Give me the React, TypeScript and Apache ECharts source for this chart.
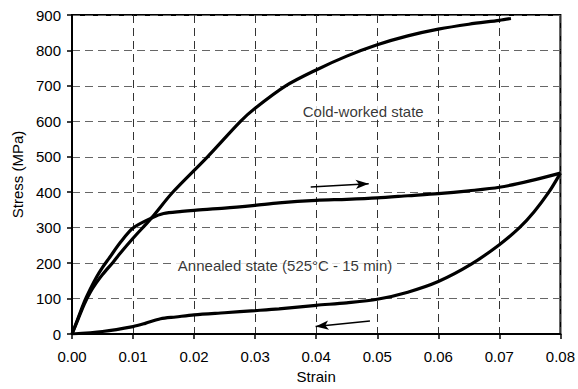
import React, { useEffect, useRef } from "react";
import * as echarts from "echarts";

// Strain (x) / Stress MPa (y)
const coldWorked: [number, number][] = [
  [0, 0], [0.001, 42], [0.002, 84], [0.003, 118], [0.004, 145], [0.005, 168],
  [0.0067, 202], [0.008, 230], [0.01, 270], [0.013, 327], [0.0165, 400],
  [0.0222, 500], [0.0276, 600], [0.03, 637], [0.035, 700], [0.04, 745],
  [0.045, 784], [0.05, 816], [0.055, 841], [0.06, 860], [0.065, 874],
  [0.07, 885], [0.0719, 890],
];

const annealedLoading: [number, number][] = [
  [0, 0], [0.001, 45], [0.002, 90], [0.003, 127], [0.004, 160], [0.005, 188],
  [0.006, 212], [0.008, 260], [0.01, 299], [0.013, 327], [0.015, 340],
  [0.018, 346], [0.02, 349], [0.025, 355], [0.03, 363], [0.0339, 370],
  [0.04, 377], [0.045, 380], [0.05, 384], [0.055, 390], [0.06, 396],
  [0.065, 404], [0.07, 414], [0.075, 432], [0.08, 454],
];

const annealedUnloading: [number, number][] = [
  [0.08, 454], [0.0781, 400], [0.0757, 345], [0.0733, 300], [0.07, 252],
  [0.0654, 197], [0.06, 148], [0.055, 118], [0.05, 98], [0.045, 88],
  [0.04, 81], [0.0339, 71], [0.03, 66], [0.025, 60], [0.02, 54], [0.017, 48],
  [0.0145, 43], [0.012, 30], [0.01, 21], [0.005, 7], [0, 0],
];

const arrows: [number, number][][] = [
  [[0.0391, 415], [0.0486, 424]],
  [[0.0488, 37], [0.0399, 21]],
];

const annotationTexts = ["Cold-worked state", "Annealed state (525°C - 15 min)"];
const annotationPoints: [number, number][] = [[0.0477, 628], [0.0349, 192]];

const xTicks = [0, 0.01, 0.02, 0.03, 0.04, 0.05, 0.06, 0.07, 0.08];
const yTicks = [0, 100, 200, 300, 400, 500, 600, 700, 800, 900];

const FONT = "'Liberation Sans', Arial, sans-serif";

export default function App() {
  const ref = useRef<HTMLDivElement>(null);
  useEffect(() => {
    if (!ref.current) return;
    const chart = echarts.init(ref.current, null, { renderer: "svg" });
    const curveStyle = { color: "#000", width: 3.2 };
    chart.setOption({
      animation: false,
      backgroundColor: "#fff",
      textStyle: { fontFamily: FONT },
      grid: {
        left: 72, right: 15, top: 15, bottom: 50,
        show: true, borderColor: "#000", borderWidth: 2,
      },
      xAxis: {
        type: "value",
        min: xTicks[0], max: xTicks[xTicks.length - 1], interval: 0.01,
        name: "Strain", nameLocation: "middle", nameGap: 35,
        nameTextStyle: { fontSize: 15, color: "#000", fontFamily: FONT },
        axisLine: { show: true, lineStyle: { color: "#000", width: 2 } },
        axisTick: { show: true, length: 5, lineStyle: { color: "#000", width: 1.5 } },
        axisLabel: {
          fontSize: 15, color: "#000", margin: 15, fontFamily: FONT,
          formatter: (v: number) => v.toFixed(2),
        },
        splitLine: { show: true, lineStyle: { color: "#333", type: [8, 5], width: 1 } },
      },
      yAxis: {
        type: "value",
        min: yTicks[0], max: yTicks[yTicks.length - 1], interval: 100,
        name: "Stress (MPa)", nameLocation: "middle", nameGap: 47,
        nameTextStyle: { fontSize: 15, color: "#000", fontFamily: FONT },
        axisLine: { show: true, lineStyle: { color: "#000", width: 2 } },
        axisTick: { show: true, length: 5, lineStyle: { color: "#000", width: 1.5 } },
        axisLabel: { fontSize: 15, color: "#000", margin: 11, fontFamily: FONT },
        splitLine: { show: true, lineStyle: { color: "#666", type: [8, 5], width: 1 } },
      },
      series: [
        {
          type: "scatter",
          data: annotationPoints.map((p, i) => ({ value: p, name: annotationTexts[i] })),
          symbolSize: 1,
          itemStyle: { color: "rgba(0,0,0,0)" },
          label: {
            show: true, position: "inside", formatter: "{b}",
            fontSize: 15, color: "#000", fontFamily: FONT,
            backgroundColor: "#fff", padding: [1, 4],
          },
          z: 3,
        },
        {
          type: "line", data: coldWorked, showSymbol: false, smooth: 0.3,
          lineStyle: curveStyle, z: 4,
        },
        {
          type: "line", data: annealedLoading, showSymbol: false, smooth: 0.3,
          lineStyle: curveStyle, z: 4,
          markLine: {
            silent: true,
            symbol: ["none", "arrow"],
            symbolSize: [7, 13],
            label: { show: false },
            lineStyle: { color: "#000", width: 1.5, type: "solid" },
            data: arrows.map((a) => [{ coord: a[0] }, { coord: a[1] }]),
          },
        },
        {
          type: "line", data: annealedUnloading, showSymbol: false, smooth: 0.3,
          lineStyle: curveStyle, z: 4,
        },
      ],
    });
    return () => chart.dispose();
  }, []);
  return (
    <div
      ref={ref}
      style={{ position: "fixed", left: 0, top: 0, width: 578, height: 389 }}
    />
  );
}
